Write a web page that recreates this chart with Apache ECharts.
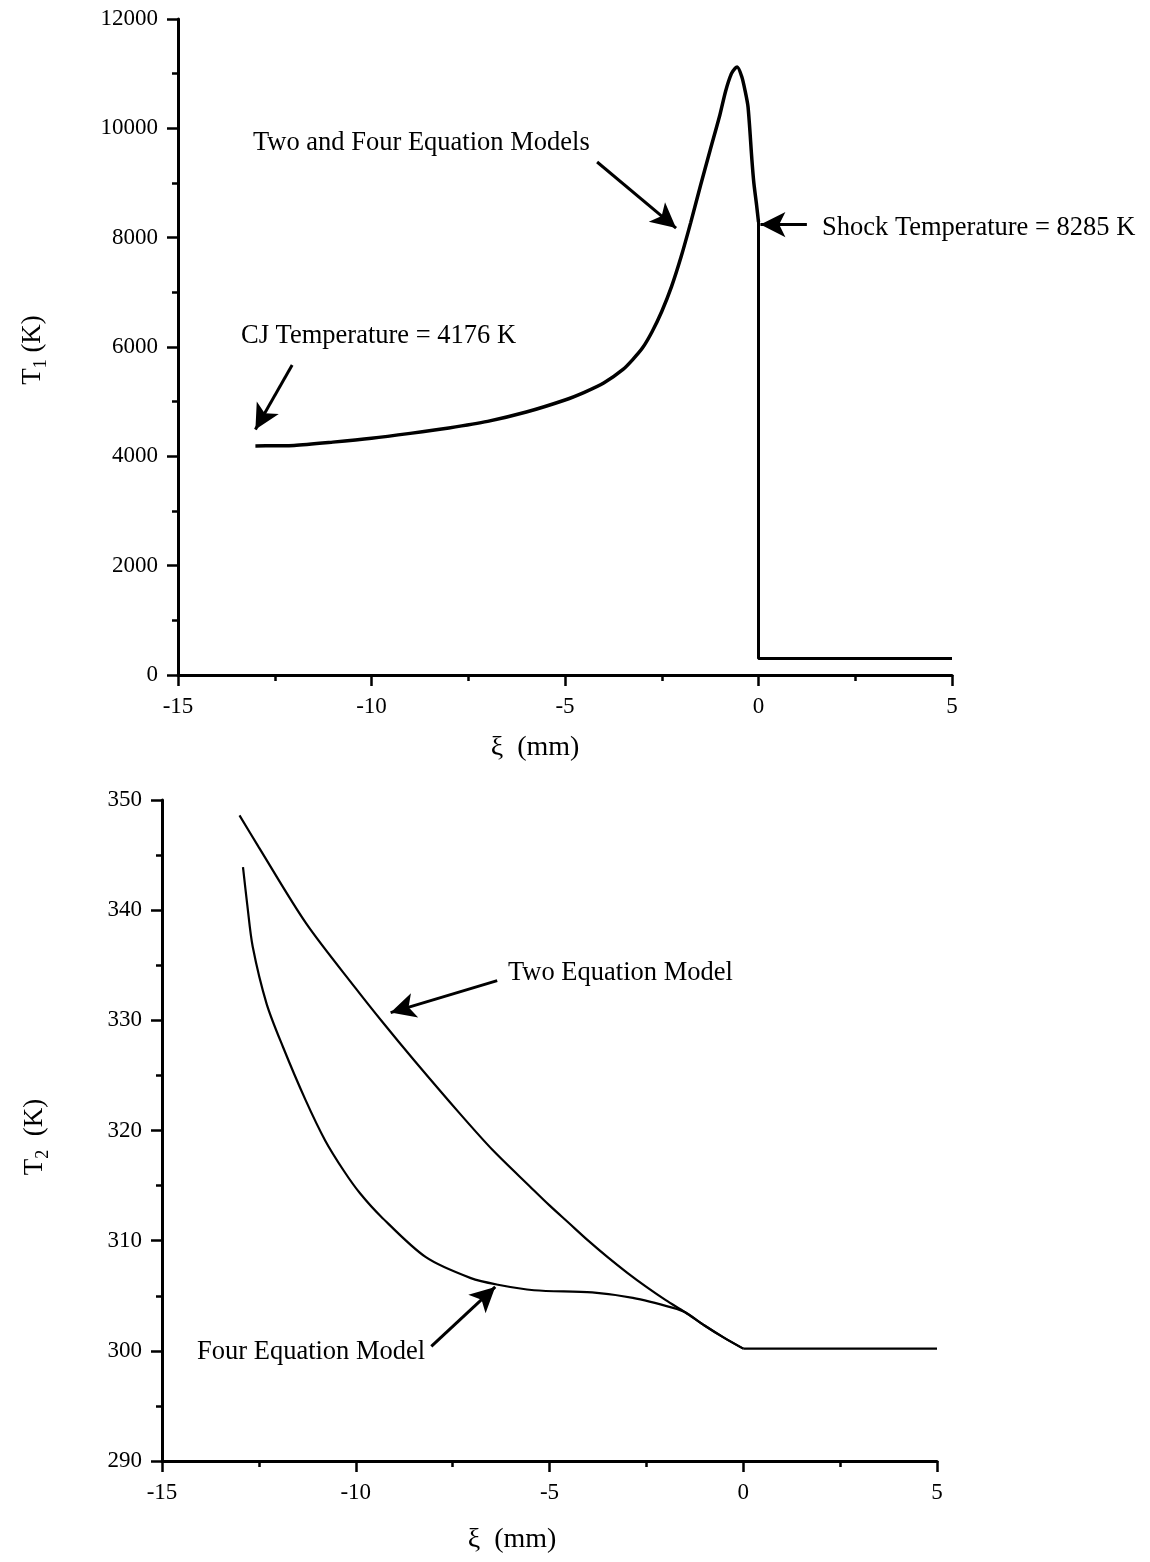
<!DOCTYPE html>
<html>
<head>
<meta charset="utf-8">
<script src="https://cdn.jsdelivr.net/npm/echarts@6/dist/echarts.min.js"></script>
<style>
html,body{margin:0;padding:0;background:#fff;}
#c{width:1150px;height:1562px;}
</style>
</head>
<body>
<div id="c"></div>
<script>
// ---- Top panel: T1 (K) vs xi (mm) ----
const xi1 = [-13, -12.5, -12, -11, -10, -9, -8, -7, -6, -5, -4.5, -4, -3.5, -3.25, -3, -2.75, -2.5, -2.25, -2, -1.75, -1.5, -1.25, -1, -0.85, -0.7, -0.6, -0.55, -0.43, -0.35, -0.27, -0.17, -0.12, -0.05, 0];
const t1  = [4190, 4195, 4200, 4260, 4330, 4420, 4520, 4640, 4810, 5030, 5170, 5340, 5590, 5770, 5980, 6280, 6650, 7100, 7650, 8280, 8950, 9600, 10240, 10680, 11000, 11100, 11120, 10940, 10700, 10390, 9420, 9000, 8600, 8285];
const xiShock = [0, 0, 5];
const tShock  = [8285, 300, 300];

// ---- Bottom panel: T2 (K) vs xi (mm) ----
const xiTwo = [-13, -12.5, -11.28, -10, -9.3, -8.5, -7.33, -6.46, -5.5, -5, -4.5, -4, -3.5, -3, -2.5, -2, -1.5, -1, -0.5, 0];
const tTwo  = [348.6, 345.7, 338.8, 332.9, 329.8, 326.4, 321.6, 318.2, 314.9, 313.2, 311.6, 310.0, 308.5, 307.1, 305.8, 304.6, 303.5, 302.3, 301.2, 300.2];
const xiFour = [-12.91, -12.8, -12.66, -12.3, -11.88, -11.3, -10.79, -10.3, -9.89, -9.35, -8.19, -7.03, -6.33, -5.4, -3.9, -2.85, -1.81, -1.5, -1, -0.5, 0];
const tFour  = [343.9, 340.5, 336.7, 331.5, 327.6, 322.8, 319.1, 316.3, 314.3, 312.2, 308.5, 306.6, 306.0, 305.5, 305.3, 304.8, 303.9, 303.5, 302.3, 301.2, 300.2];
const xiAmbient = [0, 5];
const tAmbient  = [300.2, 300.2];

// axis ticks
const xTicks = {min: -15, max: 5, interval: 5};
const y1Ticks = {min: 0, max: 12000, interval: 2000};
const y2Ticks = {min: 290, max: 350, interval: 10};

const zip = (a, b) => a.map((v, i) => [v, b[i]]);
const FONT = '"Liberation Serif", "Times New Roman", serif';
const BLACK = '#000';
const plain = v => String(v);

function xAxisDef(gi) {
  return {
    type: 'value', gridIndex: gi, min: xTicks.min, max: xTicks.max, interval: xTicks.interval,
    axisLine: {show: true, onZero: false, lineStyle: {color: BLACK, width: 3}},
    axisTick: {show: true, length: 11, lineStyle: {color: BLACK, width: 2.5}},
    minorTick: {show: true, splitNumber: 2, length: 6, lineStyle: {color: BLACK, width: 2.5}},
    splitLine: {show: false},
    axisLabel: {color: BLACK, fontFamily: FONT, fontSize: 23, margin: 20, formatter: plain}
  };
}
function yAxisDef(gi, t) {
  return {
    type: 'value', gridIndex: gi, min: t.min, max: t.max, interval: t.interval,
    axisLine: {show: true, onZero: false, lineStyle: {color: BLACK, width: 3}},
    axisTick: {show: true, length: 11, lineStyle: {color: BLACK, width: 2.5}},
    minorTick: {show: true, splitNumber: 2, length: 6, lineStyle: {color: BLACK, width: 2.5}},
    splitLine: {show: false},
    axisLabel: {color: BLACK, fontFamily: FONT, fontSize: 23, margin: 20, formatter: plain}
  };
}

function arrow(from, to) {
  return [{coord: from, symbol: 'none'}, {coord: to, symbol: 'arrow'}];
}
const arrowStyle = {
  silent: true, animation: false,
  symbolSize: [19, 25],
  lineStyle: {color: BLACK, width: 3, type: 'solid'},
  label: {show: false},
  emphasis: {disabled: true}
};

const chart = echarts.init(document.getElementById('c'), null, {renderer: 'canvas'});
const option = {
  backgroundColor: '#ffffff',
  animation: false,
  grid: [
    {left: 178, top: 19, width: 774, height: 656},
    {left: 162, top: 800, width: 775, height: 661}
  ],
  xAxis: [xAxisDef(0), xAxisDef(1)],
  yAxis: [yAxisDef(0, y1Ticks), yAxisDef(1, y2Ticks)],
  series: [
    {
      type: 'line', xAxisIndex: 0, yAxisIndex: 0, data: zip(xi1, t1),
      showSymbol: false, smooth: 0.25,
      lineStyle: {color: BLACK, width: 3.5},
      markLine: Object.assign({}, arrowStyle, {
        data: [
          arrow([-4.17, 9384], [-2.13, 8176]),
          arrow([-12.05, 5670], [-13.0, 4490]),
          arrow([1.25, 8240], [0.05, 8240])
        ]
      })
    },
    {
      type: 'line', xAxisIndex: 0, yAxisIndex: 0, data: zip(xiShock, tShock),
      showSymbol: false, lineStyle: {color: BLACK, width: 3}
    },
    {
      type: 'line', xAxisIndex: 1, yAxisIndex: 1, data: zip(xiTwo, tTwo),
      showSymbol: false, smooth: 0.3,
      lineStyle: {color: BLACK, width: 2.2},
      markLine: Object.assign({}, arrowStyle, {
        data: [
          arrow([-6.35, 333.6], [-9.1, 330.7]),
          arrow([-8.05, 300.4], [-6.4, 305.8])
        ]
      })
    },
    {
      type: 'line', xAxisIndex: 1, yAxisIndex: 1, data: zip(xiFour, tFour),
      showSymbol: false, smooth: 0.3,
      lineStyle: {color: BLACK, width: 2.2}
    },
    {
      type: 'line', xAxisIndex: 1, yAxisIndex: 1, data: zip(xiAmbient, tAmbient),
      showSymbol: false, lineStyle: {color: BLACK, width: 2.4}
    }
  ],
  graphic: [
    {type: 'text', x: 253, y: 143, style: {text: 'Two and Four Equation Models', fill: BLACK, font: '26.5px ' + FONT, align: 'left', verticalAlign: 'middle'}},
    {type: 'text', x: 241, y: 336, style: {text: 'CJ Temperature = 4176 K', fill: BLACK, font: '26.5px ' + FONT, align: 'left', verticalAlign: 'middle'}},
    {type: 'text', x: 822, y: 228, style: {text: 'Shock Temperature = 8285 K', fill: BLACK, font: '26.5px ' + FONT, align: 'left', verticalAlign: 'middle'}},
    {type: 'text', x: 508, y: 973, style: {text: 'Two Equation Model', fill: BLACK, font: '26.5px ' + FONT, align: 'left', verticalAlign: 'middle'}},
    {type: 'text', x: 197, y: 1352, style: {text: 'Four Equation Model', fill: BLACK, font: '26.5px ' + FONT, align: 'left', verticalAlign: 'middle'}},
    {type: 'text', x: 535, y: 748, style: {text: 'ξ  (mm)', fill: BLACK, font: '28px ' + FONT, align: 'center', verticalAlign: 'middle'}},
    {type: 'text', x: 512, y: 1540, style: {text: 'ξ  (mm)', fill: BLACK, font: '28px ' + FONT, align: 'center', verticalAlign: 'middle'}},
    {type: 'text', x: 33, y: 350, rotation: Math.PI / 2,
      style: {text: '{a|T}{b|1}{a| (K)}', align: 'center', verticalAlign: 'middle',
        rich: {a: {fontFamily: FONT, fontSize: 27, fill: BLACK, lineHeight: 34, verticalAlign: 'middle'},
               b: {fontFamily: FONT, fontSize: 18, fill: BLACK, lineHeight: 18, verticalAlign: 'bottom'}}}},
    {type: 'text', x: 35, y: 1137, rotation: Math.PI / 2,
      style: {text: '{a|T}{b|2}{a|  (K)}', align: 'center', verticalAlign: 'middle',
        rich: {a: {fontFamily: FONT, fontSize: 27, fill: BLACK, lineHeight: 34, verticalAlign: 'middle'},
               b: {fontFamily: FONT, fontSize: 18, fill: BLACK, lineHeight: 18, verticalAlign: 'bottom'}}}}
  ]
};
chart.setOption(option);
</script>
</body>
</html>
